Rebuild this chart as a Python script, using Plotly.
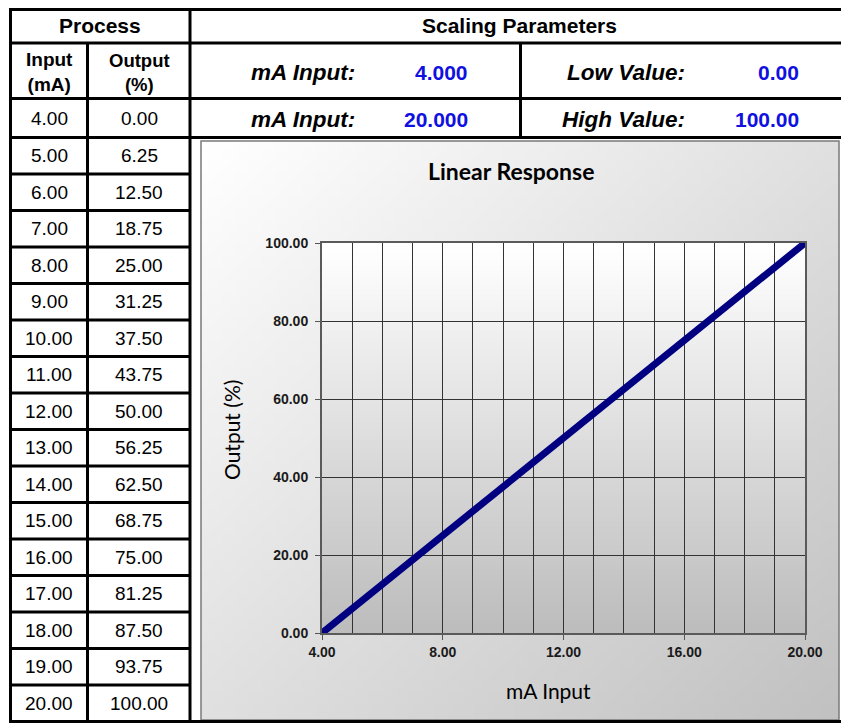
"""Linear scaling sheet: process table + linear response chart."""
import base64
import struct
import zlib

import plotly.graph_objects as go

# page is 849x725, the html body adds an 8px margin
W, H = 849, 725
OFF = 8
FW, FH = W - OFF, H - OFF

# process table
input_ma = [4.0, 5.0, 6.0, 7.0, 8.0, 9.0, 10.0, 11.0, 12.0,
            13.0, 14.0, 15.0, 16.0, 17.0, 18.0, 19.0, 20.0]
output_pct = [0.00, 6.25, 12.50, 18.75, 25.00, 31.25, 37.50, 43.75, 50.00,
              56.25, 62.50, 68.75, 75.00, 81.25, 87.50, 93.75, 100.00]

# scaling parameters
ma_low, ma_high = 4.000, 20.000
low_value, high_value = 0.00, 100.00

x_ticks = [4, 8, 12, 16, 20]
y_ticks = [0, 20, 40, 60, 80, 100]

BLUE = "#1010e0"
TXT_FONT = "Liberation Sans, Arial, sans-serif"
CHART_FONT = "Lato, sans-serif"


def px(x):
    return (x - OFF) / FW


def py(y):
    return 1 - (y - OFF) / FH


def png_uri(w, h, shade):
    # tiny grey gradient png, built by hand (no PIL needed)
    raw = b""
    for j in range(h):
        row = b"\x00"
        for i in range(w):
            g = int(round(shade(i / (w - 1), j / (h - 1))))
            row += bytes([g, g, g])
        raw += row

    def chunk(tag, data):
        return (struct.pack(">I", len(data)) + tag + data
                + struct.pack(">I", zlib.crc32(tag + data) & 0xFFFFFFFF))

    png = (b"\x89PNG\r\n\x1a\n"
           + chunk(b"IHDR", struct.pack(">IIBBBBB", w, h, 8, 2, 0, 0, 0))
           + chunk(b"IDAT", zlib.compress(raw))
           + chunk(b"IEND", b""))
    return "data:image/png;base64," + base64.b64encode(png).decode()


box_bg = png_uri(48, 48, lambda u, v: 255 - 62 * (u + v) / 2)
plot_bg = png_uri(4, 64, lambda u, v: 255 - 66 * v)

fig = go.Figure()
fig.add_trace(go.Scatter(
    x=input_ma, y=output_pct, mode="lines",
    line=dict(color="#000080", width=7),
    hoverinfo="x+y", showlegend=False,
))

shapes = []
annots = []


def hline(y, x0, x1, w=3, color="black"):
    shapes.append(dict(type="line", xref="paper", yref="paper",
                       x0=px(x0), x1=px(x1), y0=py(y), y1=py(y),
                       line=dict(color=color, width=w), layer="above"))


def vline(x, y0, y1, w=3, color="black"):
    shapes.append(dict(type="line", xref="paper", yref="paper",
                       x0=px(x), x1=px(x), y0=py(y0), y1=py(y1),
                       line=dict(color=color, width=w), layer="above"))


def text(x, y, s, size=18, color="black", anchor="center", family=TXT_FONT,
         angle=0):
    annots.append(dict(xref="paper", yref="paper", x=px(x), y=py(y), text=s,
                       showarrow=False, xanchor=anchor, yanchor="middle",
                       textangle=angle,
                       font=dict(family=family, size=size, color=color)))


# table grid
row_top = 137.5
row_h = 36.5
n_rows = len(input_ma) - 1
bottom = row_top + row_h * n_rows

hline(9.5, 9, W)
hline(43, 9, W)
hline(98.5, 9, W)
hline(row_top, 9, W)
for k in range(1, n_rows):
    hline(row_top + row_h * k, 9, 190)
hline(bottom, 9, W)
vline(10.5, 8, bottom + 1.5)
vline(87.5, 43, bottom + 1.5)
vline(190, 8, bottom + 1.5)
vline(520.5, 43, row_top)

# chart frame
shapes.append(dict(type="rect", xref="paper", yref="paper",
                   x0=px(201), x1=px(839), y0=py(141), y1=py(720),
                   line=dict(color="#7a7a7a", width=1.5), layer="below"))

# table text
text(100, 25, "<b>Process</b>", size=21)
text(49, 72, "<b>Input<br>(mA)</b>", size=19)
text(139, 72, "<b>Output<br>(%)</b>", size=18.5)
text(49, 118, f"{input_ma[0]:.2f}", size=19)
text(139, 118, f"{output_pct[0]:.2f}", size=19)
for k in range(n_rows):
    yc = row_top + row_h * (k + 0.5)
    text(49, yc, f"{input_ma[k + 1]:.2f}", size=19)
    text(139, yc, f"{output_pct[k + 1]:.2f}", size=19)

text(519, 26, "<b>Scaling Parameters</b>", size=21)
text(357, 72, "<b><i>mA Input:</i></b>", size=22.5, anchor="right")
text(470, 72, f"<b>{ma_low:.3f}</b>", size=21, color=BLUE, anchor="right")
text(687, 72, "<b><i>Low Value:</i></b>", size=22.5, anchor="right")
text(801, 72, f"<b>{low_value:.2f}</b>", size=21, color=BLUE, anchor="right")
text(357, 119, "<b><i>mA Input:</i></b>", size=22.5, anchor="right")
text(470, 119, f"<b>{ma_high:.3f}</b>", size=21, color=BLUE, anchor="right")
text(687, 119, "<b><i>High Value:</i></b>", size=22.5, anchor="right")
text(801, 119, f"<b>{high_value:.2f}</b>", size=21, color=BLUE, anchor="right")

# chart titles
text(511, 171, "<b>Linear Response</b>", size=23, family=CHART_FONT)
text(548, 690, "mA Input", size=21, family=CHART_FONT)
text(231, 430, "Output (%)", size=21, family=CHART_FONT, angle=-90)

images = [
    dict(source=box_bg, xref="paper", yref="paper", x=px(201), y=py(141),
         sizex=(839 - 201) / FW, sizey=(720 - 141) / FH, sizing="stretch",
         xanchor="left", yanchor="top", layer="below"),
    dict(source=plot_bg, xref="x", yref="y", x=4, y=100, sizex=16, sizey=100,
         sizing="stretch", xanchor="left", yanchor="top", layer="below"),
]

tick_font = dict(family=TXT_FONT, size=14, color="#1a1a1a", weight="bold")

fig.update_layout(
    width=FW, height=FH,
    margin=dict(l=0, r=0, t=0, b=0, autoexpand=False),
    paper_bgcolor="white",
    plot_bgcolor="rgba(0,0,0,0)",
    shapes=shapes,
    annotations=annots,
    images=images,
    xaxis=dict(
        domain=[px(322), px(805)], range=[4, 20],
        tickvals=x_ticks, ticktext=[f"{v:.2f}" for v in x_ticks],
        ticks="outside", ticklen=5, tickcolor="#555",
        tickfont=tick_font, automargin=False,
        showgrid=True, gridcolor="#333", gridwidth=1,
        minor=dict(dtick=1, tick0=4, showgrid=True, gridcolor="#333",
                   gridwidth=1, ticks=""),
        showline=True, linecolor="#5a5a5a", linewidth=2, mirror=True,
        zeroline=False, fixedrange=True,
    ),
    yaxis=dict(
        domain=[py(633), py(243)], range=[0, 100],
        tickvals=y_ticks, ticktext=[f"{v:.2f}" for v in y_ticks],
        ticks="outside", ticklen=5, tickcolor="#555",
        tickfont=tick_font, ticklabelstandoff=4, automargin=False,
        showgrid=True, gridcolor="#333", gridwidth=1,
        showline=True, linecolor="#5a5a5a", linewidth=2, mirror=True,
        zeroline=False, fixedrange=True,
    ),
)

fig.write_html("out.html")
